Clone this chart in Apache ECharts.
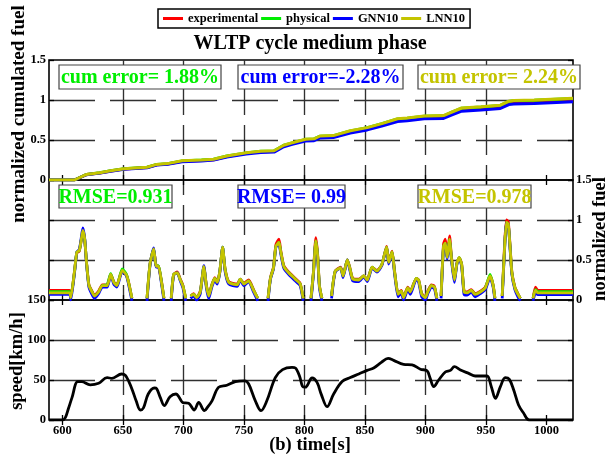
<!DOCTYPE html>
<html><head><meta charset="utf-8">
<script src="https://cdn.jsdelivr.net/npm/echarts@6/dist/echarts.min.js"></script>
<style>html,body{margin:0;padding:0;background:#fff}#c{width:609px;height:458px}</style>
</head><body><div id="c"></div>
<script>
// ---------- data ----------
const xTicks = [600, 650, 700, 750, 800, 850, 900, 950, 1000];
const seriesNames = ['experimental', 'physical', 'GNN10', 'LNN10'];
const seriesColors = ['#ff0000', '#00ee00', '#0000ff', '#c4c400'];
const cumErrLabels = ['cum error= 1.88%', 'cum error=-2.28%', 'cum error= 2.24%'];
const rmseLabels = ['RMSE=0.931', 'RMSE= 0.99', 'RMSE=0.978'];

// cumulated fuel (panel 1)
const cumTime = [589,610,620,631,640,651,670,678,687,699,715,725,736,752,764,775,783,790,801,808,813,824,838,852,864,877,885,899,915,922,930,946,962,969,973,990,1022];
const cumExp  = [0,0,0.068,0.088,0.112,0.137,0.156,0.19,0.2,0.235,0.245,0.254,0.293,0.333,0.352,0.357,0.425,0.455,0.499,0.504,0.538,0.543,0.601,0.641,0.69,0.748,0.758,0.782,0.787,0.831,0.88,0.895,0.914,0.963,0.973,0.978,1.0];
const cumPhys = [0,0,0.07,0.09,0.115,0.14,0.16,0.194,0.204,0.239,0.249,0.259,0.299,0.339,0.359,0.364,0.434,0.464,0.508,0.513,0.548,0.553,0.613,0.653,0.703,0.763,0.773,0.798,0.803,0.848,0.897,0.912,0.932,0.982,0.992,0.997,1.019];
const cumGNN  = [0,0,0.067,0.086,0.11,0.134,0.153,0.186,0.196,0.229,0.239,0.249,0.287,0.325,0.344,0.349,0.416,0.445,0.488,0.492,0.526,0.531,0.588,0.626,0.674,0.731,0.741,0.765,0.77,0.813,0.86,0.875,0.894,0.942,0.951,0.956,0.977];
const cumLNN  = [0,0,0.07,0.09,0.115,0.14,0.16,0.195,0.205,0.24,0.25,0.26,0.3,0.34,0.36,0.365,0.435,0.465,0.51,0.515,0.55,0.555,0.615,0.655,0.705,0.765,0.775,0.8,0.805,0.85,0.9,0.915,0.935,0.985,0.995,1.0,1.022];

// normalized fuel rate (panel 2); null = below axis (fuel cut)
const fuelTime = [589,606,607,610,612,614,615.5,617,618.5,620,622,624.5,626.5,630,633,637,640,642.5,645,649.5,653,655,657.5,663,
670,672.5,675.5,677.5,679.5,682,684,687,
690,692,695,697.5,699.5,702,704,
706,708.5,711,714,717,719,721,723.5,726,728,730,732.5,734.5,737.5,744.5,747,750,754,758,761.5,765,
770,772,774.5,776.5,779,780.5,783,787,792.5,796.5,799,802,
805.5,807.5,809.5,811,812.5,814.5,818,
822.5,825.5,830,832,835.5,837.5,840,845,849,852,856,860,864,868,869.7,872.5,874.5,877.5,880,882,885.5,887.5,892.5,894.5,897,900,902,905,907.5,909.5,911,
913,915,916.5,918,920,921.5,924,926,928,930,932,934.5,938,941,945.5,949.5,953.5,956,957.5,960,
963.5,965.5,967,968.5,970,971.5,974,976.5,978.5,984,
989,991,993,1022];
const fuelExp = [0.12,0.12,0.04,0.35,0.59,0.61,0.73,0.85,0.75,0.47,0.19,0.11,0.06,0.11,0.19,0.19,0.32,0.23,0.19,0.37,0.31,0.21,0.02,null,
0.02,0.45,0.63,0.43,0.42,0.23,0.02,null,
0.02,0.32,0.35,0.26,0.19,0.02,null,
0.05,0.08,0.03,0.11,0.41,0.19,0.06,0.19,0.28,0.23,0.34,0.65,0.39,0.23,0.2,0.26,0.21,0.25,0.13,0.02,null,
0.02,0.28,0.41,0.69,0.76,0.62,0.43,0.35,0.27,0.21,0.02,null,
0.02,0.35,0.78,0.57,0.18,0.02,null,
0.05,0.36,0.41,0.31,0.5,0.41,0.27,0.26,0.3,0.26,0.41,0.37,0.44,0.67,0.48,0.61,0.37,0.08,0.12,0.04,0.16,0.11,0.27,0.25,0.08,0.04,0.11,0.19,0.17,0.02,null,
0.05,0.7,0.76,0.56,0.8,0.55,0.26,0.46,0.53,0.45,0.11,0.1,0.13,0.08,0.11,0.16,0.3,0.19,0.02,null,
0.05,0.7,1.0,0.98,0.68,0.35,0.16,0.08,0.02,null,
0.02,0.16,0.12,0.12];
const fuelPhys = [0.105,0.105,0.04,0.34,0.6,0.62,0.74,0.86,0.76,0.47,0.18,0.1,0.05,0.1,0.18,0.19,0.33,0.22,0.18,0.39,0.32,0.2,0.02,null,
0.02,0.45,0.64,0.42,0.43,0.22,0.02,null,
0.02,0.32,0.34,0.25,0.18,0.02,null,
0.05,0.07,0.03,0.1,0.42,0.18,0.05,0.18,0.27,0.22,0.34,0.66,0.38,0.22,0.19,0.26,0.2,0.24,0.12,0.02,null,
0.02,0.27,0.4,0.67,0.72,0.6,0.42,0.34,0.26,0.2,0.02,null,
0.02,0.34,0.74,0.55,0.17,0.02,null,
0.05,0.36,0.4,0.3,0.5,0.4,0.26,0.25,0.3,0.25,0.41,0.36,0.44,0.66,0.47,0.6,0.36,0.07,0.11,0.03,0.15,0.1,0.27,0.24,0.07,0.03,0.1,0.18,0.16,0.02,null,
0.05,0.67,0.71,0.53,0.76,0.53,0.25,0.45,0.53,0.44,0.1,0.09,0.12,0.07,0.1,0.15,0.32,0.18,0.02,null,
0.05,0.66,0.97,0.95,0.66,0.34,0.15,0.07,0.02,null,
0.02,0.13,0.105,0.105];
const fuelGNN = [0.07,0.07,0.0,0.33,0.6,0.63,0.76,0.9,0.77,0.46,0.16,0.07,0.02,0.08,0.16,0.16,0.31,0.2,0.16,0.36,0.3,0.18,-0.01,null,
-0.01,0.44,0.65,0.41,0.41,0.2,-0.01,null,
-0.01,0.31,0.34,0.24,0.16,-0.01,null,
0.02,0.05,0.0,0.08,0.43,0.16,0.02,0.16,0.25,0.2,0.33,0.66,0.36,0.2,0.17,0.25,0.18,0.23,0.1,-0.01,null,
-0.01,0.26,0.39,0.66,0.7,0.58,0.4,0.32,0.24,0.18,-0.01,null,
-0.01,0.32,0.73,0.53,0.15,-0.01,null,
0.02,0.35,0.4,0.28,0.5,0.38,0.24,0.23,0.29,0.23,0.4,0.35,0.43,0.65,0.45,0.59,0.34,0.04,0.09,0.0,0.13,0.07,0.26,0.22,0.04,0.0,0.08,0.16,0.14,-0.01,null,
0.02,0.65,0.7,0.51,0.74,0.51,0.22,0.44,0.52,0.42,0.07,0.06,0.1,0.04,0.08,0.13,0.28,0.16,-0.01,null,
0.02,0.64,0.96,0.94,0.64,0.32,0.13,0.04,-0.01,null,
-0.01,0.09,0.068,0.068];
const fuelLNN = [0.088,0.088,0.03,0.35,0.6,0.62,0.74,0.87,0.76,0.47,0.18,0.1,0.05,0.1,0.18,0.18,0.32,0.22,0.18,0.37,0.31,0.2,0.02,null,
0.02,0.45,0.64,0.42,0.42,0.22,0.02,null,
0.02,0.32,0.34,0.25,0.18,0.02,null,
0.05,0.07,0.03,0.1,0.42,0.18,0.05,0.18,0.27,0.22,0.34,0.66,0.38,0.22,0.19,0.26,0.2,0.24,0.12,0.02,null,
0.02,0.27,0.4,0.67,0.72,0.6,0.42,0.34,0.26,0.2,0.02,null,
0.02,0.34,0.74,0.55,0.17,0.02,null,
0.05,0.36,0.4,0.3,0.5,0.4,0.26,0.25,0.3,0.25,0.41,0.36,0.44,0.66,0.47,0.6,0.36,0.07,0.11,0.03,0.15,0.1,0.27,0.24,0.07,0.03,0.1,0.18,0.16,0.02,null,
0.05,0.67,0.71,0.53,0.76,0.53,0.25,0.45,0.53,0.44,0.1,0.09,0.12,0.07,0.1,0.15,0.3,0.18,0.02,null,
0.05,0.66,0.97,0.95,0.66,0.34,0.15,0.07,0.02,null,
0.02,0.12,0.088,0.088];

// speed (panel 3)
const speedTime = [589,600,602.5,605,608,612.7,616,623,630,637,641,649,652,655,658,661,664.5,667,671,676,678,681,684.3,689,694,696.7,699.4,704.4,709,712.7,717.4,720,723.7,729,736,743,750.7,754,759.5,764.2,769,776,782,789.8,792.6,796,798.5,800.8,806.4,810.5,814,818.8,824.2,831.2,838,845,851.8,857.3,863.6,869.2,873.8,882,889,895.9,901.4,904,906.9,911,916.5,920.7,924,929,935.8,941.3,946.9,951,954.5,957.9,962,966,969.4,973,977,981,986,1022];
const speedVal = [0,0,3,14,28,48,48,44,46,53,52,57.5,56,48,37,24,12.5,15,32.5,40,39,28,18,29,32.5,28,22,21,12.5,22,11.6,16,24,40.8,43.4,48,49,45,24,11.6,24,53,63,65.8,65,55,42,41,52.5,47,32,16.6,32.5,48,53,57.5,62,65,72,77,74.6,69.6,69,63.5,61.5,52,41.7,50,60,62,66.6,62.5,58.3,55,55,55,41.7,27,41.7,52.9,50.8,37.5,18.7,9,0,0];

// ---------- chart ----------
const FONT = '"Liberation Serif", "Times New Roman", serif';
const zip = (t, v) => t.map((x, i) => [x, v[i]]);
const gridTops = [60, 180, 300];
const GL = 49, GW = 524, GH = 120;

const splitStyleX = { color: '#303030', width: 1.35, type: [30, 10], dashOffset: 15 };
const splitStyleY = { color: '#303030', width: 1.35, type: [46, 15], dashOffset: 0 };
const tickStyle = { color: '#000', width: 1.3 };
const labelStyle = { color: '#000', fontFamily: FONT, fontWeight: 'bold', fontSize: 12.5 };

function xAx(g, pos, labels) {
  return {
    type: 'value', gridIndex: g, position: pos, min: 589, max: 1022,
    axisLine: { show: false },
    axisTick: { show: true, inside: true, length: 5, customValues: xTicks, lineStyle: tickStyle },
    axisLabel: Object.assign({ show: labels, customValues: xTicks, margin: 4, formatter: v => String(v) }, labelStyle),
    splitLine: { show: pos === 'bottom', showMinLine: false, showMaxLine: false, lineStyle: splitStyleX }
  };
}
function yAx(g, pos, labels, max, interval, split) {
  return {
    type: 'value', gridIndex: g, position: pos, min: 0, max: max, interval: interval,
    axisLine: { show: false },
    axisTick: { show: true, inside: true, length: 5, lineStyle: tickStyle },
    axisLabel: Object.assign({ show: labels, margin: 3, formatter: v => String(v) }, labelStyle),
    splitLine: { show: split, showMinLine: false, showMaxLine: false, lineStyle: splitStyleY }
  };
}

const series = [];
const cumSets = [cumExp, cumPhys, cumGNN, cumLNN];
const fuelSets = [fuelExp, fuelPhys, fuelGNN, fuelLNN];
seriesNames.forEach((n, i) => {
  series.push({ name: n, type: 'line', xAxisIndex: 0, yAxisIndex: 0, data: zip(cumTime, cumSets[i]),
    symbol: 'none', lineStyle: { color: seriesColors[i], width: 3 }, itemStyle: { color: seriesColors[i] } });
});
seriesNames.forEach((n, i) => {
  series.push({ name: n, type: 'line', xAxisIndex: 2, yAxisIndex: 2, data: zip(fuelTime, fuelSets[i]),
    symbol: 'none', smooth: 0.2, connectNulls: false,
    lineStyle: { color: seriesColors[i], width: 2.8 }, itemStyle: { color: seriesColors[i] } });
});
series.push({ name: 'speed', type: 'line', xAxisIndex: 4, yAxisIndex: 4, data: zip(speedTime, speedVal),
  symbol: 'none', smooth: 0.35, lineStyle: { color: '#000', width: 2.8 }, itemStyle: { color: '#000' } });

function boxes(labels, top, h, lefts, widths, colorIdx) {
  const els = [];
  labels.forEach((t, i) => {
    els.push({ type: 'rect', z: 100, shape: { x: lefts[i], y: top, width: widths[i], height: h },
      style: { fill: '#fff', stroke: '#444', lineWidth: 1.2 } });
    els.push({ type: 'text', z: 101, x: lefts[i] + widths[i] / 2, y: top + h / 2 + 1,
      style: { text: t, fill: seriesColors[colorIdx[i]], font: 'bold 20px ' + FONT, textAlign: 'center', textVerticalAlign: 'middle' } });
  });
  return els;
}

const graphics = [
  { type: 'text', x: 310, y: 44, style: { text: 'WLTP cycle medium phase', fill: '#000', font: 'bold 20px ' + FONT, textAlign: 'center', textVerticalAlign: 'middle' } },
  { type: 'text', x: 19, y: 114, rotation: Math.PI / 2, style: { text: 'normalized cumulated fuel', fill: '#000', font: 'bold 19px ' + FONT, textAlign: 'center', textVerticalAlign: 'middle' } },
  { type: 'text', x: 17, y: 361, rotation: Math.PI / 2, style: { text: 'speed[km/h]', fill: '#000', font: 'bold 18.5px ' + FONT, textAlign: 'center', textVerticalAlign: 'middle' } },
  { type: 'text', x: 600, y: 239, rotation: Math.PI / 2, style: { text: 'normalized fuel', fill: '#000', font: 'bold 18.5px ' + FONT, textAlign: 'center', textVerticalAlign: 'middle' } },
  { type: 'text', x: 310, y: 445, style: { text: '(b) time[s]', fill: '#000', font: 'bold 18.5px ' + FONT, textAlign: 'center', textVerticalAlign: 'middle' } }
].concat(
  boxes(cumErrLabels, 65, 24, [59, 238, 418], [162, 165, 162], [1, 2, 3]),
  boxes(rmseLabels, 185, 23, [59, 238, 418], [113, 107, 113], [1, 2, 3])
);

const option = {
  animation: false,
  backgroundColor: '#fff',
  grid: gridTops.map(t => ({ left: GL, top: t, width: GW, height: GH, show: true, borderColor: '#000', borderWidth: 1.6, backgroundColor: 'transparent' })),
  xAxis: [xAx(0, 'bottom', false), xAx(0, 'top', false), xAx(1, 'bottom', false), xAx(1, 'top', false), xAx(2, 'bottom', true), xAx(2, 'top', false)],
  yAxis: [yAx(0, 'left', true, 1.5, 0.5, true), yAx(0, 'right', false, 1.5, 0.5, false),
          yAx(1, 'left', false, 1.5, 0.5, true), yAx(1, 'right', true, 1.5, 0.5, false),
          yAx(2, 'left', true, 150, 50, true), yAx(2, 'right', false, 150, 50, false)],
  legend: {
    data: seriesNames, top: 9, left: 158, selectedMode: false,
    icon: 'rect', itemWidth: 20, itemHeight: 3, itemGap: 3,
    padding: [3, 5], borderColor: '#000', borderWidth: 1.5, backgroundColor: '#fff',
    textStyle: { color: '#000', fontFamily: FONT, fontWeight: 'bold', fontSize: 12.5 }
  },
  series: series,
  graphic: graphics
};

const chart = echarts.init(document.getElementById('c'), null, { renderer: 'canvas' });
chart.setOption(option);
</script>
</body></html>
